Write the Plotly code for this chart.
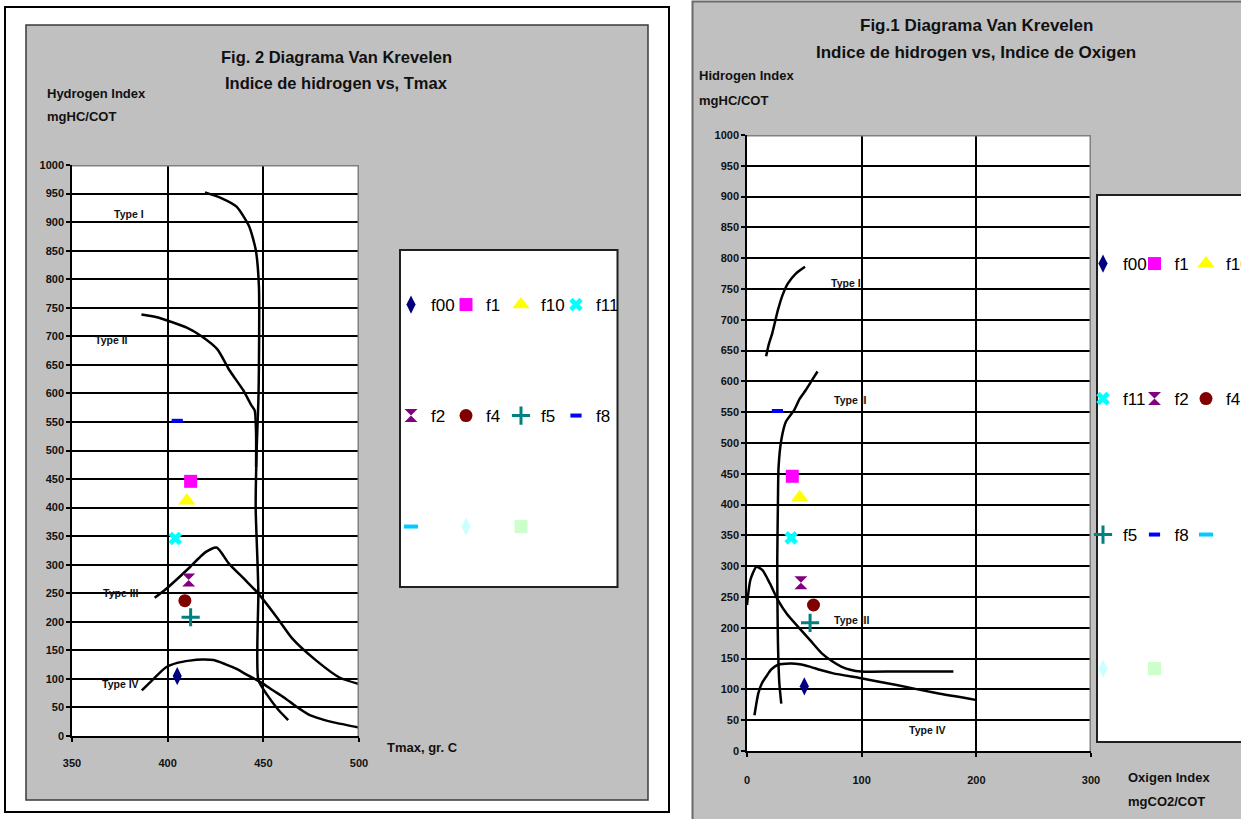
import plotly.graph_objects as go

# ---------------- data ----------------
SAMPLES = ["f00", "f1", "f10", "f11", "f2", "f4", "f5", "f8"]
HI = [105, 446, 412, 346, 273, 237, 208, 552]          # Hydrogen index (same samples in both charts)
TMAX = [405, 412, 410, 404, 411, 409, 412, 405]        # Tmax, gr. C
OI = [50, 39.5, 46, 38.5, 47, 58, 55, 26.5]            # Oxigen index
EXTRA_SERIES = [" ", " ", " "]                          # unnamed, empty series shown in legend

# Fig. 2 (HI vs Tmax) reference curves
T_TYPE1 = [419.5, 428, 436, 442.5, 446, 447.7, 447.5, 446.5, 446, 447, 447.4, 447.4, 452, 457.8, 463]
HI_TYPE1 = [952, 942, 927, 893, 852, 787, 600, 500, 400, 300, 250, 98, 72, 46, 28]
T_TYPE2 = [386.3, 395, 401.2, 410, 417.7, 426, 432.2, 439.4, 443.6, 445.5, 446.2, 446.2]
HI_TYPE2 = [738, 733, 726, 715, 700, 677, 641, 606, 580, 570, 530, 471]
T_TYPE3 = [393.2, 399, 405, 411.7, 419.8, 425.6, 432, 440, 447, 457, 465.3, 477.7, 490, 500]
HI_TYPE3 = [242, 257, 275, 296, 322, 330, 302, 275, 251, 208, 170, 132, 102, 91]
T_TYPE4 = [386.5, 392, 399, 405, 411.5, 418, 424, 430, 436.3, 442, 448.8, 455, 461, 467, 473.5, 480, 488, 500]
HI_TYPE4 = [80, 98, 120, 128, 132, 134, 133, 126, 117, 106, 94, 80, 67, 52, 38, 30, 23, 15]

# Fig. 1 (HI vs OI) reference curves
OI_TYPE1 = [16.7, 19, 22, 27, 31, 35.7, 42.6, 50.6]
HI_R_TYPE1 = [641, 660, 678, 716, 740, 759, 775, 786]
OI_TYPE2 = [61.5, 56, 51.3, 46, 41, 34, 29.9, 27.5, 27, 26.4, 26.5, 27, 28.2, 29.9]
HI_R_TYPE2 = [616, 600, 586, 572, 553, 535, 505, 460, 407, 310, 250, 175, 110, 77]
OI_TYPE3 = [0, 3, 8.2, 13.3, 20, 27, 35, 44.4, 55, 65, 74, 82.2, 90, 99.5, 130.5, 180]
HI_R_TYPE3 = [237, 278, 299, 294, 272, 245, 222, 202, 180, 159, 146, 137, 132, 129, 129, 129]
OI_TYPE4 = [6.5, 9.9, 13, 16.8, 21, 27, 37.5, 46, 54.7, 65, 75.3, 99.5, 130.5, 165, 199.4]
HI_R_TYPE4 = [58, 94, 110, 121, 132, 140, 142, 141, 137, 131, 126, 118, 107, 94, 83]

X1_TICKS = [350, 400, 450, 500]
X2_TICKS = [0, 100, 200, 300]
Y_TICKS = list(range(0, 1001, 50))

# ---------------- styles ----------------
W, H = 1241, 819
FONT = "Liberation Sans Narrow, Arial Narrow, Liberation Sans, Arial, sans-serif"


def px(x):
    return x / W


def py(y):
    return 1 - y / H


MARKERS = [
    dict(symbol="diamond-tall", color="#000080", size=13),
    dict(symbol="square", color="#FF00FF", size=13),
    dict(symbol="triangle-up", color="#FFFF00", size=15),
    dict(symbol="x", color="#00FFFF", size=12),
    dict(symbol="hourglass", color="#800080", size=13),
    dict(symbol="circle", color="#800000", size=13),
    dict(symbol="cross-thin", color="#008080", size=13, line=dict(color="#008080", width=3)),
    dict(symbol="line-ew", color="#0000FF", size=8, line=dict(color="#0000FF", width=4)),
    dict(symbol="line-ew", color="#00CCFF", size=10, line=dict(color="#00CCFF", width=4)),
    dict(symbol="diamond-tall", color="#CCFFFF", size=13),
    dict(symbol="square", color="#CCFFCC", size=13),
]

fig = go.Figure()

curve_line = dict(color="black", width=2.5, shape="spline", smoothing=0.6)
for xs, ys in [(T_TYPE1, HI_TYPE1), (T_TYPE2, HI_TYPE2), (T_TYPE3, HI_TYPE3), (T_TYPE4, HI_TYPE4)]:
    fig.add_trace(go.Scatter(x=xs, y=ys, mode="lines", line=curve_line, showlegend=False,
                             hoverinfo="skip", xaxis="x", yaxis="y"))
for xs, ys in [(OI_TYPE1, HI_R_TYPE1), (OI_TYPE2, HI_R_TYPE2), (OI_TYPE3, HI_R_TYPE3), (OI_TYPE4, HI_R_TYPE4)]:
    fig.add_trace(go.Scatter(x=xs, y=ys, mode="lines", line=curve_line, showlegend=False,
                             hoverinfo="skip", xaxis="x2", yaxis="y2"))

names = SAMPLES + EXTRA_SERIES
left_rows = [0, 0, 0, 0, 1, 1, 1, 1, 2, 2, 2]
right_rows = [0, 0, 0, 1, 1, 1, 2, 2, 2, 3, 3]
left_legends = ["legend", "legend2", "legend3"]
right_legends = ["legend4", "legend5", "legend6", "legend7"]


def mk(m):
    d = dict(m)
    if "line" not in d:
        d["line"] = dict(width=0)
    return d


def last_in_row(rows, i):
    return i == len(rows) - 1 or rows[i + 1] != rows[i]


for i, name in enumerate(names):
    has = i < len(SAMPLES)
    fig.add_trace(go.Scatter(
        x=[TMAX[i]] if has else [None], y=[HI[i]] if has else [None],
        mode="markers", name=name, marker=mk(MARKERS[i]),
        legendwidth=40 if last_in_row(left_rows, i) else None,
        xaxis="x", yaxis="y", legend=left_legends[left_rows[i]]))
for i, name in enumerate(names):
    has = i < len(SAMPLES)
    fig.add_trace(go.Scatter(
        x=[OI[i]] if has else [None], y=[HI[i]] if has else [None],
        mode="markers", name=name, marker=mk(MARKERS[i]),
        legendwidth=40 if last_in_row(right_rows, i) else None,
        xaxis="x2", yaxis="y2", legend=right_legends[right_rows[i]]))

axis_common = dict(
    showgrid=True, gridcolor="black", gridwidth=1.5, zeroline=False,
    showline=True, linecolor="black", linewidth=1.5,
    ticks="outside", ticklen=4, tickwidth=1.5, tickcolor="black",
    tickfont=dict(family=FONT, size=11, color="#111111", weight="bold"),
    fixedrange=True,
)

legend_common = dict(
    orientation="h", xanchor="left", yanchor="middle", bgcolor="rgba(0,0,0,0)",
    borderwidth=0, font=dict(family=FONT, size=17, color="black"),
    entrywidthmode="pixels", itemsizing="trace", traceorder="normal",
)

layout = dict(
    width=W, height=H, margin=dict(l=0, r=0, t=0, b=0, autoexpand=False),
    paper_bgcolor="white", plot_bgcolor="white", showlegend=True,
    xaxis=dict(domain=[px(72), px(359)], range=[350, 500], tickvals=X1_TICKS, anchor="y",
               ticklabelstandoff=12, **axis_common),
    yaxis=dict(domain=[py(736), py(165)], range=[0, 1000], tickvals=Y_TICKS, anchor="x", **axis_common),
    xaxis2=dict(domain=[px(747), px(1091)], range=[0, 300], tickvals=X2_TICKS, anchor="y2",
                ticklabelstandoff=14, **axis_common),
    yaxis2=dict(domain=[py(751), py(135)], range=[0, 1000], tickvals=Y_TICKS, anchor="x2", **axis_common),
)

left_row_y = [305, 416, 527]
for k, lg in enumerate(left_legends):
    layout[lg] = dict(x=px(391), y=py(left_row_y[k]), entrywidth=10, **legend_common)
right_row_y = [264, 399, 535, 669]
for k, lg in enumerate(right_legends):
    layout[lg] = dict(x=px(1083), y=py(right_row_y[k]), entrywidth=6.5, **legend_common)

fig.update_layout(**layout)

# ---------------- frames / panels ----------------
shapes = [
    dict(type="rect", xref="paper", yref="paper", x0=px(5), x1=px(669), y0=py(812), y1=py(7),
         fillcolor="white", line=dict(color="black", width=2), layer="below"),
    dict(type="rect", xref="paper", yref="paper", x0=px(26), x1=px(648), y0=py(800), y1=py(25),
         fillcolor="#C0C0C0", line=dict(color="#3a3a3a", width=1.5), layer="below"),
    dict(type="rect", xref="paper", yref="paper", x0=px(692.5), x1=1.05, y0=-0.05, y1=py(1.5),
         fillcolor="#C0C0C0", line=dict(color="#6a6a6a", width=2), layer="below"),
    dict(type="rect", xref="paper", yref="paper", x0=px(400), x1=px(617.5), y0=py(587), y1=py(250),
         fillcolor="white", line=dict(color="#202020", width=2), layer="below"),
    dict(type="rect", xref="paper", yref="paper", x0=px(1097), x1=1.05, y0=py(742), y1=py(195),
         fillcolor="white", line=dict(color="#202020", width=2), layer="below"),
    # white plot areas (inside subplot layer, below grid)
    dict(type="rect", xref="x", yref="y", x0=350, x1=500, y0=0, y1=1000,
         fillcolor="white", line=dict(width=0), layer="below"),
    dict(type="rect", xref="x2", yref="y2", x0=0, x1=300, y0=0, y1=1000,
         fillcolor="white", line=dict(width=0), layer="below"),
    # grey plot-area border top/right
    dict(type="path", xref="x", yref="y", path="M 350,1000 L 500,1000 L 500,0",
         line=dict(color="#808080", width=3), layer="above"),
    dict(type="path", xref="x2", yref="y2", path="M 0,1000 L 300,1000 L 300,0",
         line=dict(color="#808080", width=3), layer="above"),
]
fig.update_layout(shapes=shapes)

# ---------------- text ----------------
ann = []


def ptext(text, x, y, size, xanchor="center"):
    ann.append(dict(text=text, x=px(x), y=py(y), xref="paper", yref="paper", xanchor=xanchor,
                    yanchor="middle", showarrow=False,
                    font=dict(family=FONT, size=size, color="#111111", weight="bold")))


ptext("Fig. 2 Diagrama Van Krevelen", 336, 57, 16.5)
ptext("Indice de hidrogen vs, Tmax", 336, 83, 16.5)
ptext("Hydrogen Index", 45, 93, 13, "left")
ptext("mgHC/COT", 45, 117, 13, "left")
ptext("Tmax, gr. C", 385, 747, 13, "left")

ptext("Fig.1 Diagrama Van Krevelen", 976, 25, 17)
ptext("Indice de hidrogen vs, Indice de Oxigen", 976, 53, 17)
ptext("Hidrogen Index", 697, 75, 13, "left")
ptext("mgHC/COT", 697, 100, 13, "left")
ptext("Oxigen Index", 1126, 777, 13, "left")
ptext("mgCO2/COT", 1126, 801, 13, "left")


def dtext(text, x, y, xr, yr):
    ann.append(dict(text=text, x=x, y=y, xref=xr, yref=yr, xanchor="center", yanchor="middle",
                    showarrow=False, font=dict(family=FONT, size=10.5, color="#111111", weight="bold")))


dtext("Type I", 379.8, 914, "x", "y")
dtext("Type II", 370.6, 694, "x", "y")
dtext("Type III", 375.4, 251, "x", "y")
dtext("Type IV", 375.4, 91, "x", "y")
dtext("Type I", 86.3, 760, "x2", "y2")
dtext("Type II", 90, 570, "x2", "y2")
dtext("Type III", 91, 213, "x2", "y2")
dtext("Type IV", 157, 34, "x2", "y2")

fig.update_layout(annotations=ann)

# remove the default 8px page margin so the figure sits at the window's top-left corner
fig.write_html("out.html", config={"displayModeBar": False},
               post_script="document.body.style.margin='0';")
